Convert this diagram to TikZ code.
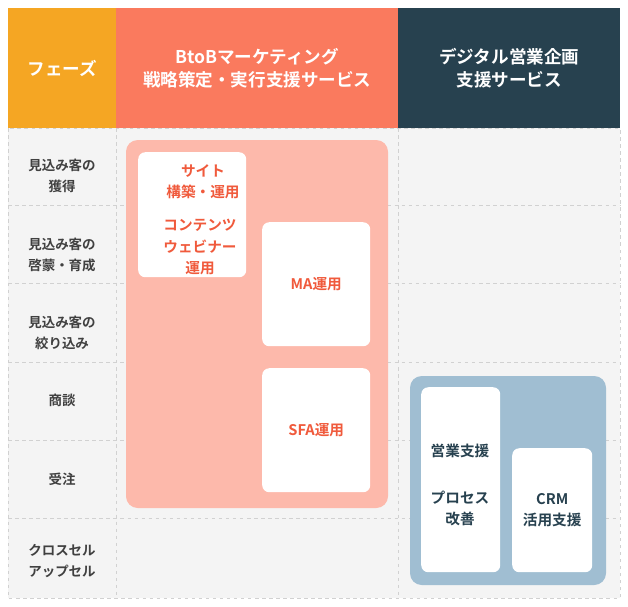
\documentclass[tikz,border=0pt]{standalone}
\usepackage{fontspec}
\setmainfont{Noto Sans CJK JP}[BoldFont={Noto Sans CJK JP Bold}]
\usetikzlibrary{positioning}
\definecolor{phase}{HTML}{F5A623}
\definecolor{salmon}{HTML}{FA7A5E}
\definecolor{navy}{HTML}{27414F}
\definecolor{pinkbg}{HTML}{FDB9AB}
\definecolor{bluebg}{HTML}{A0BED2}
\definecolor{redtxt}{HTML}{F05A3C}
\definecolor{gridbg}{HTML}{F4F4F4}
\begin{document}
\begin{tikzpicture}[x=0.03cm,y=-0.03cm,
            head node/.style={anchor=north west,inner sep=0pt,font=\bfseries\fontsize{15}{20}\selectfont,text=white,align=center},
            row node/.style={font=\bfseries\fontsize{11.5}{18}\selectfont,text=black!75,align=center},
            card text/.style={font=\bfseries\fontsize{12.5}{18}\selectfont,align=center},
            card node/.style={fill=white,rounded corners=6pt,anchor=north west,inner sep=0pt,card text},
            grid line/.style={black!18,dashed,line width=0.6pt}
            ]
            \useasboundingbox (0,0) rectangle (628,606);
            \fill[gridbg] (8,128) rectangle (620,598);

            % header
            \node[head node,fill=phase,minimum width=108*0.03cm,minimum height=120*0.03cm](phase) at (8,8){フェーズ};
            \node[head node,fill=salmon,minimum width=282*0.03cm,minimum height=120*0.03cm](btob) at (116,8){BtoBマーケティング\\戦略策定・実行支援サービス};
            \node[head node,fill=navy,minimum width=222*0.03cm,minimum height=120*0.03cm](sales) at (398,8){デジタル営業企画\\支援サービス};

            % grid
            \foreach \y in {205,283,362,440,518}
                \draw[grid line] (8,\y) -- (620,\y);
            \foreach \x in {116,398}
                \draw[grid line] (\x,128) -- (\x,598);
            \draw[grid line] (8,128) rectangle (620,598);

            % phases
            \node[row node](r1) at (62,176){見込み客の\\獲得};
            \node[row node](r2) at (62,255){見込み客の\\啓蒙・育成};
            \node[row node](r3) at (62,333){見込み客の\\絞り込み};
            \node[row node](r4) at (62,400){商談};
            \node[row node](r5) at (62,479){受注};
            \node[row node](r6) at (62,561){クロスセル\\アップセル};

            % panels
            \fill[pinkbg,rounded corners=10pt] (126,140) rectangle (388,508);
            \fill[bluebg,rounded corners=10pt] (410,376) rectangle (606,585);

            \node[card node,minimum width=108*0.03cm,minimum height=125*0.03cm](site) at (138,152){};
            \node[card text,text=redtxt] at (203,182){サイト\\構築・運用};
            \node[card text,text=redtxt] at (200,247){コンテンツ\\ウェビナー\\運用};
            \node[card node,text=redtxt,minimum width=108*0.03cm,minimum height=124*0.03cm](ma) at (262,222){MA運用};
            \node[card node,text=redtxt,minimum width=108*0.03cm,minimum height=124*0.03cm](sfa) at (262,368){SFA運用};

            \node[card node,minimum width=79*0.03cm,minimum height=185*0.03cm](proc) at (421,387){};
            \node[card text,text=navy] at (460,451){営業支援};
            \node[card text,text=navy] at (460,508){プロセス\\改善};
            \node[card node,text=navy,minimum width=80*0.03cm,minimum height=124*0.03cm](crm) at (512,448){CRM\\活用支援};
\end{tikzpicture}
\end{document}
